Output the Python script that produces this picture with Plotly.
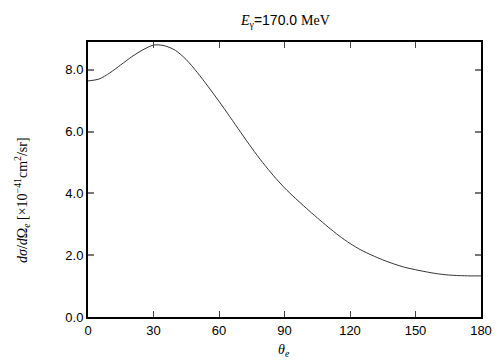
import plotly.graph_objects as go

theta = [0, 5, 10, 15, 20, 25, 30, 35, 40, 45, 50, 55, 60, 65, 70, 75, 80, 85, 90,
         95, 100, 105, 110, 115, 120, 125, 130, 135, 140, 145, 150, 155, 160, 165, 170, 175, 180]
dsigma = [7.64, 7.70, 7.90, 8.16, 8.42, 8.64, 8.80, 8.78, 8.63, 8.33, 7.92, 7.46, 6.98,
          6.48, 5.97, 5.47, 5.00, 4.57, 4.18, 3.84, 3.52, 3.21, 2.91, 2.63, 2.38, 2.17,
          2.00, 1.85, 1.72, 1.61, 1.53, 1.46, 1.40, 1.36, 1.34, 1.33, 1.33]
x_ticks = [0, 30, 60, 90, 120, 150, 180]
y_ticks = [0, 2, 4, 6, 8]
y_tick_labels = ["0.0", "2.0", "4.0", "6.0", "8.0"]

serif = "Liberation Serif, DejaVu Serif, serif"
sans = "Liberation Sans, Arial, sans-serif"

fig = go.Figure()
fig.add_trace(go.Scatter(x=theta, y=dsigma, mode="lines",
                         line=dict(color="#333333", width=1, shape="spline", smoothing=0.8),
                         showlegend=False, hoverinfo="skip"))

L, R, T, B = 88, 23, 42, 43
W, H = 504, 360
pw, ph = W - L - R, H - T - B

fig.update_layout(
    width=W, height=H,
    margin=dict(l=L, r=R, t=T, b=B, pad=0),
    paper_bgcolor="white", plot_bgcolor="white",
    font=dict(family=sans, size=13, color="black"),
    xaxis=dict(range=[0, 180], tickvals=x_ticks, ticks="inside", ticklen=6, tickwidth=1,
               tickcolor="#444444", mirror="allticks", showline=True, linecolor="black",
               linewidth=2, showgrid=False, zeroline=False, tickfont=dict(family=sans, size=13)),
    yaxis=dict(range=[0, 8.9], tickvals=y_ticks, ticktext=y_tick_labels, ticks="inside", ticklen=6,
               tickwidth=2, tickcolor="#777777", mirror="allticks", showline=True, linecolor="black",
               linewidth=2, showgrid=False, zeroline=False, tickfont=dict(family=sans, size=13)),
    annotations=[
        dict(text="<i>E</i><sub>γ</sub><span style=\"font-family:Liberation Sans\">=170.0 </span>MeV",
             xref="paper", yref="paper", x=0.5, y=(H - B - 21) / ph,
             showarrow=False, font=dict(family=serif, size=14), xanchor="center", yanchor="middle"),
        dict(text="<i>dσ</i>/<i>d</i>Ω<sub><i>e</i></sub> [×10<sup>−41</sup>cm<sup>2</sup>/sr]",
             xref="paper", yref="paper", x=(22 - L) / pw, y=(H - B - 200) / ph, textangle=-90,
             showarrow=False, font=dict(family=serif, size=14), xanchor="center", yanchor="middle"),
        dict(text="<i>θ<sub>e</sub></i>",
             xref="paper", yref="paper", x=(284 - L) / pw, y=(H - B - 350) / ph,
             showarrow=False, font=dict(family=serif, size=14), xanchor="center", yanchor="middle"),
    ],
)

fig.write_html("out.html", config={"displayModeBar": False, "staticPlot": True},
               post_script="document.body.style.margin='0';")
